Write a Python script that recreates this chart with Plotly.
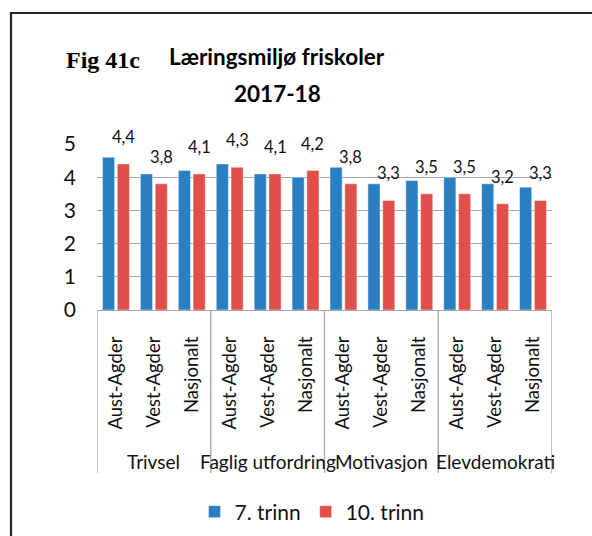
import plotly.graph_objects as go

# Survey themes (outer groups) and regions (inner categories)
groups = ["Trivsel", "Faglig utfordring", "Motivasjon", "Elevdemokrati"]
regions = ["Aust-Agder", "Vest-Agder", "Nasjonalt"]

# Mean scores, one value per theme/region, in the order above
trinn7 = [4.6, 4.1, 4.2, 4.4, 4.1, 4.0, 4.3, 3.8, 3.9, 4.0, 3.8, 3.7]
trinn10 = [4.4, 3.8, 4.1, 4.3, 4.1, 4.2, 3.8, 3.3, 3.5, 3.5, 3.2, 3.3]

series_names = ["7. trinn", "10. trinn"]
y_ticks = [0, 1, 2, 3, 4, 5]

BLUE = "#2A7EC2"
RED = "#E04F4A"
GRID = "#a6a6a6"
FONT = "Lato, Carlito, Calibri, sans-serif"

W, H = 592, 536
ML, MR, MT, MB = 97, 40, 144, 226
BARGAP, GROUPGAP = 0.22, 0.18


def px_x(p):
    return (p - ML) / (W - ML - MR)


def px_y(p):
    return (H - MB - p) / (H - MT - MB)


n_reg = len(regions)
xs = list(range(len(groups) * n_reg))
tick_text = [regions[i % n_reg] for i in xs]

fig = go.Figure()
fig.add_trace(go.Bar(
    x=xs, y=trinn7, name=series_names[0],
    marker=dict(color=BLUE, line=dict(color="rgba(255,255,255,0.45)", width=1)),
))
fig.add_trace(go.Bar(
    x=xs, y=trinn10, name=series_names[1],
    marker=dict(color=RED, line=dict(color="rgba(255,255,255,0.45)", width=1)),
))

annotations = []
# Value labels above the 10. trinn bars (second bar of each pair)
red_offset = (1 - BARGAP) / 4
for i, v in zip(xs, trinn10):
    annotations.append(dict(
        x=i + red_offset, y=v, xref="x", yref="y",
        text=f"{v:.1f}".replace(".", ","), showarrow=False,
        yanchor="bottom", yshift=15,
        font=dict(family=FONT, size=16.5, color="#111"),
    ))

# Theme names under each group of regions
for g, name in enumerate(groups):
    annotations.append(dict(
        x=g * n_reg + (n_reg - 1) / 2, y=0, xref="x", yref="paper",
        text=name, showarrow=False, yanchor="middle", yshift=-151,
        font=dict(family=FONT, size=19, color="#111"),
    ))

# Titles
annotations.append(dict(
    x=px_x(103), y=px_y(60), xref="paper", yref="paper",
    text="<b>Fig 41c</b>", showarrow=False, xanchor="center", yanchor="middle",
    font=dict(family="Liberation Serif, Times New Roman, serif", size=24, color="#000"),
))
annotations.append(dict(
    x=px_x(277), y=px_y(57), xref="paper", yref="paper",
    text="<b>Læringsmiljø friskoler</b>", showarrow=False,
    xanchor="center", yanchor="middle",
    font=dict(family=FONT, size=22.5, color="#000"),
))
annotations.append(dict(
    x=px_x(277), y=px_y(93), xref="paper", yref="paper",
    text="<b>2017-18</b>", showarrow=False,
    xanchor="center", yanchor="middle",
    font=dict(family=FONT, size=22.5, color="#000"),
))

shapes = []
# Group dividers reaching down through the category labels
for k in range(len(groups) + 1):
    shapes.append(dict(
        type="line", xref="x", yref="paper",
        x0=k * n_reg - 0.5, x1=k * n_reg - 0.5, y0=0, y1=px_y(473),
        line=dict(color=GRID, width=1.3),
    ))
# Outer frame of the chart
shapes.append(dict(
    type="rect", xref="paper", yref="paper",
    x0=px_x(11), x1=px_x(610), y0=px_y(13), y1=px_y(560),
    line=dict(color="#262626", width=2.2), fillcolor="rgba(0,0,0,0)",
))

fig.update_layout(
    width=W, height=H,
    margin=dict(l=ML, r=MR, t=MT, b=MB, autoexpand=False),
    paper_bgcolor="white", plot_bgcolor="white",
    barmode="group", bargap=BARGAP, bargroupgap=GROUPGAP,
    font=dict(family=FONT, color="#111"),
    showlegend=True,
    legend=dict(
        orientation="h", x=px_x(312), y=px_y(512),
        xanchor="center", yanchor="middle",
        font=dict(family=FONT, size=21, color="#111"),
        itemwidth=30, tracegroupgap=0,
    ),
    annotations=annotations,
    shapes=shapes,
)

fig.update_xaxes(
    range=[-0.5, len(xs) - 0.5],
    tickmode="array", tickvals=xs, ticktext=tick_text,
    tickangle=-90, tickfont=dict(family=FONT, size=18.5, color="#111"),
    ticks="", showgrid=False, zeroline=False,
    showline=True, linecolor=GRID, linewidth=1.3,
    ticklabelstandoff=18, automargin=False,
)
fig.update_yaxes(
    range=[0, 5], tickmode="array", tickvals=y_ticks,
    ticktext=[str(t) for t in y_ticks],
    tickfont=dict(family=FONT, size=21, color="#111"),
    showgrid=True, gridcolor=GRID, gridwidth=1.3,
    zeroline=False, showline=False, ticks="",
    ticklabelstandoff=20, automargin=False,
)

fig.write_html("out.html")
